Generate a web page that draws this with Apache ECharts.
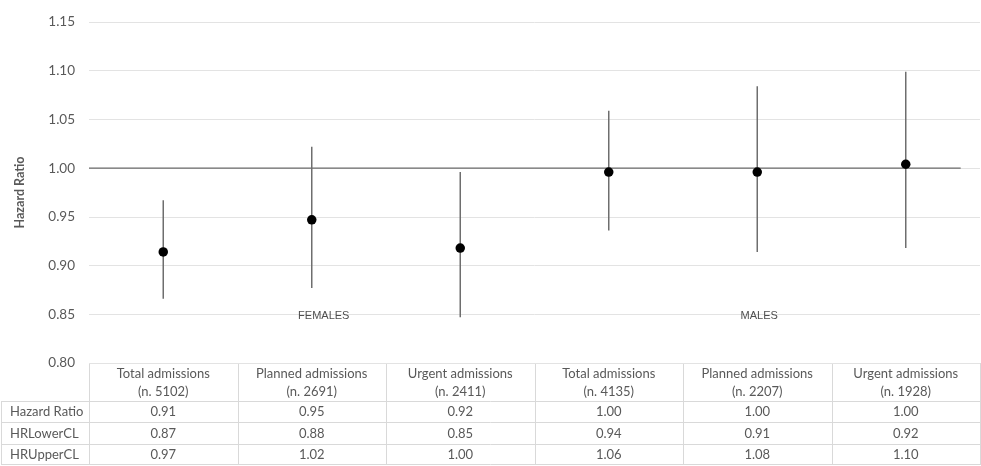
<!DOCTYPE html>
<html>
<head>
<meta charset="utf-8">
<script src="https://cdn.jsdelivr.net/npm/echarts@6/dist/echarts.min.js"></script>
<style>
  html, body { margin: 0; padding: 0; background: #fff; }
  #chart { width: 981px; height: 466px; }
</style>
</head>
<body>
<div id="chart"></div>
<script>
// Hazard ratios of admissions with 95% confidence limits, by sex
const categories = [
  'Total admissions\n(n. 5102)', 'Planned admissions\n(n. 2691)', 'Urgent admissions\n(n. 2411)',
  'Total admissions\n(n. 4135)', 'Planned admissions\n(n. 2207)', 'Urgent admissions\n(n. 1928)'
];
const hazardRatio = [0.914, 0.947, 0.918, 0.996, 0.996, 1.004];
const hrLowerCL   = [0.866, 0.877, 0.847, 0.936, 0.914, 0.918];
const hrUpperCL   = [0.967, 1.022, 0.996, 1.059, 1.084, 1.099];
const groupLabels = [{ name: 'FEMALES', at: 1, shift: 12 }, { name: 'MALES', at: 4, shift: 2 }];
const groupLabelLevel = 0.848;
const referenceLevel = 1.0;
const referenceSpan = [0, 5.87];
const yTicks = { min: 0.80, max: 1.15, step: 0.05 };
const tableRows = [
  { label: 'Hazard Ratio', values: hazardRatio },
  { label: 'HRLowerCL', values: hrLowerCL },
  { label: 'HRUpperCL', values: hrUpperCL }
];

const W = 981, H = 466;
const GRID = { left: 89, right: 1, top: 22, bottom: 103 };
const TEXT = '#595959';
const FONT = 'Lato';
const BORDER = '#d9d9d9';

const chart = echarts.init(document.getElementById('chart'), null, { renderer: 'canvas' });

// Table under the plot: header with category names, then one row per statistic
function buildTable() {
  const x0 = GRID.left, plotW = W - GRID.left - GRID.right;
  const colW = plotW / categories.length;
  const top = H - GRID.bottom;
  const headerH = 38, rowH = [21, 22, 21];
  const labelLeft = 1;
  const els = [];
  const line = (x1, y1, x2, y2) => els.push({
    type: 'line', silent: true,
    shape: { x1, y1, x2, y2 },
    style: { stroke: BORDER, lineWidth: 1 }
  });
  const text = (x, y, s, align) => els.push({
    type: 'text', silent: true,
    style: { x, y, text: s, fill: TEXT, font: '13px "' + FONT + '"', align, verticalAlign: 'middle', lineHeight: 17.5 }
  });
  const bottom = top + headerH + rowH.reduce((a, b) => a + b, 0);
  // horizontal lines
  line(x0, top + 0.5, x0 + plotW, top + 0.5);
  let y = top + headerH;
  const rowTops = [];
  for (let r = 0; r < tableRows.length; r++) {
    line(labelLeft, Math.round(y) + 0.5, x0 + plotW, Math.round(y) + 0.5);
    rowTops.push(y);
    y += rowH[r];
  }
  line(labelLeft, Math.round(bottom) - 0.5, x0 + plotW, Math.round(bottom) - 0.5);
  // vertical lines
  line(labelLeft + 0.5, top + headerH, labelLeft + 0.5, bottom);
  for (let c = 0; c <= categories.length; c++) {
    const x = Math.round(x0 + c * colW) + 0.5;
    line(x, top, x, bottom);
  }
  // header text
  categories.forEach((cat, c) => {
    text(x0 + (c + 0.5) * colW, top + headerH / 2 + 1, cat, 'center');
  });
  // rows
  tableRows.forEach((row, r) => {
    const cy = rowTops[r] + rowH[r] / 2 + 0.5;
    text(labelLeft + 9, cy, row.label, 'left');
    row.values.forEach((v, c) => text(x0 + (c + 0.5) * colW, cy, v.toFixed(2), 'center'));
  });
  return els;
}

chart.setOption({
  animation: false,
  backgroundColor: '#fff',
  grid: { left: GRID.left, right: GRID.right, top: GRID.top, bottom: GRID.bottom, containLabel: false },
  xAxis: [
    {
      type: 'category', data: categories, boundaryGap: true,
      axisLine: { show: false }, axisTick: { show: false }, axisLabel: { show: false }
    },
    { type: 'value', min: 0, max: categories.length, show: false }
  ],
  yAxis: {
    type: 'value', min: yTicks.min, max: yTicks.max, interval: yTicks.step,
    name: 'Hazard Ratio', nameLocation: 'middle', nameGap: 63, nameRotate: 90,
    nameTextStyle: { color: TEXT, fontFamily: FONT, fontSize: 12.5, fontWeight: 'bold' },
    axisLine: { show: false }, axisTick: { show: false },
    axisLabel: { color: TEXT, fontFamily: FONT, fontSize: 13.5, margin: 14, formatter: v => v.toFixed(2) },
    splitLine: { lineStyle: { color: '#e3e3e3', width: 1 } }
  },
  series: [
    {
      // reference line at HR = 1
      type: 'line', xAxisIndex: 1, silent: true, symbol: 'none',
      data: referenceSpan.map(x => [x, referenceLevel]),
      lineStyle: { color: '#6b6b6b', width: 1.2 }, z: 2
    },
    {
      // confidence interval whiskers
      type: 'custom', silent: true,
      data: categories.map((c, i) => [i, hrLowerCL[i], hrUpperCL[i]]),
      renderItem: (params, api) => {
        const lo = api.coord([api.value(0), api.value(1)]);
        const hi = api.coord([api.value(0), api.value(2)]);
        return {
          type: 'line',
          shape: { x1: lo[0], y1: lo[1], x2: hi[0], y2: hi[1] },
          style: { stroke: '#6e6e6e', lineWidth: 1.5 }
        };
      },
      z: 3
    },
    {
      // point estimates
      type: 'scatter', silent: true, symbol: 'circle', symbolSize: 9.5,
      data: hazardRatio.map((v, i) => [i, v]),
      itemStyle: { color: '#000', opacity: 1 }, z: 4
    },
    {
      // group captions
      type: 'scatter', silent: true, symbolSize: 0,
      data: groupLabels.map(g => ({
        value: [g.at, groupLabelLevel], name: g.name,
        label: { offset: [g.shift, 0] }
      })),
      label: {
        show: true, position: 'inside', formatter: p => p.name,
        color: '#222', fontFamily: 'Liberation Sans', fontSize: 11
      },
      z: 5
    }
  ],
  graphic: buildTable()
});
</script>
</body>
</html>
